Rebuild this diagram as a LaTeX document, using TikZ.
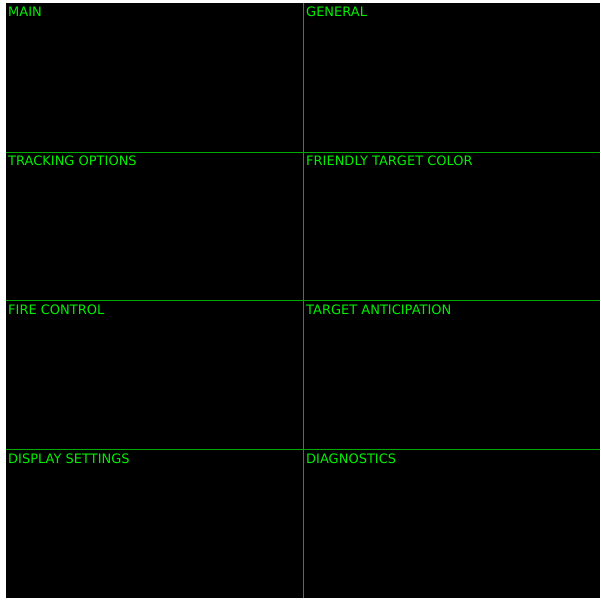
\documentclass[tikz,border=0pt]{standalone}
\usepackage{fontspec}
\setmainfont{DejaVu Sans}
\usepackage{xcolor}
\definecolor{panelline}{RGB}{0,170,0}
\definecolor{paneltext}{RGB}{0,240,0}
\tikzset{
    panel/.style={draw=none, fill=black},
    divider/.style={draw=panelline, line width=1.5pt},
    title/.style={anchor=base west, inner sep=0pt, text=paneltext, font=\fontsize{13}{15}\selectfont}
}
\begin{document}
\begin{tikzpicture}[x=1pt, y=-1pt]
    \useasboundingbox[fill=white] (0,0) rectangle (601,600);
    % Screen background
    \path[panel] (6,3) rectangle (600,598);

    % Dividers
    \coordinate (top) at (303.5,3);
    \coordinate (bottom) at (303.5,598);
    \draw[divider] (top) -- (bottom);
    \draw[divider] (6,152.5) -- (600,152.5);
    \draw[divider] (6,300.5) -- (600,300.5);
    \draw[divider] (6,449.5) -- (600,449.5);

    % Left column
    \node[title] (main) at (8,16.5) {MAIN};
    \node[title] (tracking) at (8,165.5) {TRACKING OPTIONS};
    \node[title] (fire) at (8,314.5) {FIRE CONTROL};
    \node[title] (display) at (8,463.5) {DISPLAY SETTINGS};

    % Right column
    \node[title] (general) at (306,16.5) {GENERAL};
    \node[title] (friendly) at (306,165.5) {FRIENDLY TARGET COLOR};
    \node[title] (anticipation) at (306,314.5) {TARGET ANTICIPATION};
    \node[title] (diagnostics) at (306,463.5) {DIAGNOSTICS};
\end{tikzpicture}
\end{document}
